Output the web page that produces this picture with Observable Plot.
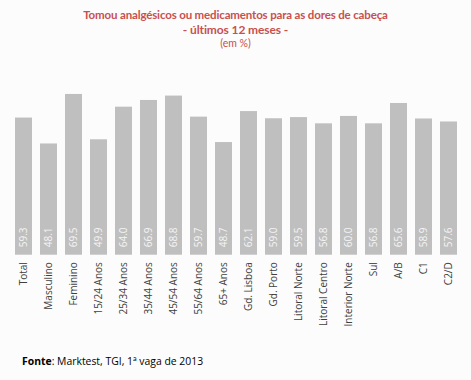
<!DOCTYPE html>
<html>
<head>
<meta charset="utf-8">
<script src="https://cdn.jsdelivr.net/npm/d3@7"></script>
<script src="https://cdn.jsdelivr.net/npm/@observablehq/plot@0.6"></script>
<style>
  html, body { margin: 0; padding: 0; background: #fcfcfc; }
  #wrap { position: relative; width: 471px; height: 380px; background: #fcfcfc; overflow: hidden; }
  #wrap svg { position: absolute; left: 0; top: 0; }
  .t { position: absolute; left: 0; width: 471px; text-align: center; color: #c8504f; font-family: Lato, sans-serif; white-space: nowrap; }
  #t1 { top: 8px; font-size: 11.5px; font-weight: bold; letter-spacing: -0.15px; }
  #t2 { top: 22px; font-size: 12px; font-weight: bold; letter-spacing: -0.1px; }
  #t3 { top: 37px; font-size: 10.5px; }
  #src { position: absolute; left: 22px; top: 354px; font-family: "Open Sans", sans-serif; font-size: 10.4px; color: #000; white-space: nowrap; }
</style>
</head>
<body>
<div id="wrap">
  <div class="t" id="t1">Tomou analgésicos ou medicamentos para as dores de cabeça</div>
  <div class="t" id="t2">- últimos 12 meses -</div>
  <div class="t" id="t3">(em %)</div>
  <div id="src"><b>Fonte</b>: Marktest, TGI, 1ª vaga de 2013</div>
</div>
<script>
const categories = ["Total", "Masculino", "Feminino", "15/24 Anos", "25/34 Anos", "35/44 Anos", "45/54 Anos", "55/64 Anos", "65+ Anos", "Gd. Lisboa", "Gd. Porto", "Litoral Norte", "Litoral Centro", "Interior Norte", "Sul", "A/B", "C1", "C2/D"];
const values = [59.3, 48.1, 69.5, 49.9, 64.0, 66.9, 68.8, 59.7, 48.7, 62.1, 59.0, 59.5, 56.8, 60.0, 56.8, 65.6, 58.9, 57.6];

const data = categories.map((c, i) => ({cat: c, v: values[i]}));

const chart = Plot.plot({
  width: 471,
  height: 380,
  marginLeft: 7,
  marginRight: 6,
  marginTop: 92.8,
  marginBottom: 125.3,
  style: {background: "transparent"},
  x: {domain: categories, padding: 0.32, axis: null},
  y: {domain: [0, 70], axis: null},
  marks: [
    Plot.barY(data, {x: "cat", y: "v", fill: "#bfbfbf"}),
    Plot.text(data, {x: "cat", y: 0, text: d => d.v.toFixed(1), rotate: -90, textAnchor: "start", lineAnchor: "middle", dy: -8, fill: "#f4f4f4", fontSize: 10, fontFamily: "Open Sans", letterSpacing: 0.4}),
    Plot.text(data, {x: "cat", frameAnchor: "bottom", text: "cat", rotate: -90, textAnchor: "end", lineAnchor: "middle", dy: 7, fill: "#404040", fontSize: 10, fontFamily: "Open Sans"})
  ]
});
document.getElementById("wrap").prepend(chart);
</script>
</body>
</html>
